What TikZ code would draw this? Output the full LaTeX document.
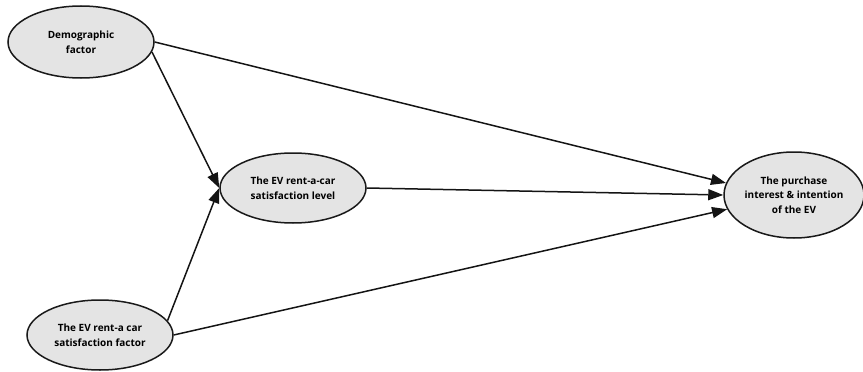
\documentclass[tikz,border=0pt]{standalone}
\usepackage{fontspec}
\setmainfont{Open Sans}
\usetikzlibrary{arrows.meta, positioning, shapes.geometric}
\definecolor{FactorBg}    {RGB}{228,228,228}
\definecolor{FactorBorder}{RGB}{ 25, 25, 25}
\definecolor{PathDark}    {RGB}{ 20, 20, 20}
\tikzset{
  % Construct ellipse
  factor/.style={
    ellipse, fill=FactorBg, draw=FactorBorder, line width=1.5pt,
    font=\fontsize{10}{14.5}\selectfont\bfseries, text=black,
    inner sep=0pt, minimum width=146pt, minimum height=72pt,
    align=center
  },
  % Path arrows
  patharrow/.style={
    -{Triangle[length=15pt,width=11pt]}, line width=1.5pt, color=PathDark
  }
}

\begin{document}
\begin{tikzpicture}[x=1pt, y=-1pt]
  \useasboundingbox (0,0) rectangle (863,372);

  % ── Constructs ───────────────────────────────────────────────────────────
  \node[factor] (demo) at (81,42) {Demographic\\factor};
  \node[factor, minimum height=70pt] (level) at (293,188)
        {The EV rent-a-car\\satisfaction level};
  \node[factor, minimum height=70pt] (sfactor) at (100,335)
        {The EV rent-a car\\satisfaction factor};
  \node[factor, minimum width=140pt, minimum height=86pt] (purchase)
        at (794,195) {The purchase\\interest \& intention\\of the EV};

  % ── Paths ────────────────────────────────────────────────────────────────
  \draw[patharrow] (demo.-8) -- (level.west);
  \draw[patharrow] (demo.east) -- (purchase.170);
  \draw[patharrow] (level.east) -- (purchase.west);
  \draw[patharrow] (sfactor.12) -- (level.west);
  \draw[patharrow] (sfactor.east) -- (purchase.192);

\end{tikzpicture}
\end{document}
